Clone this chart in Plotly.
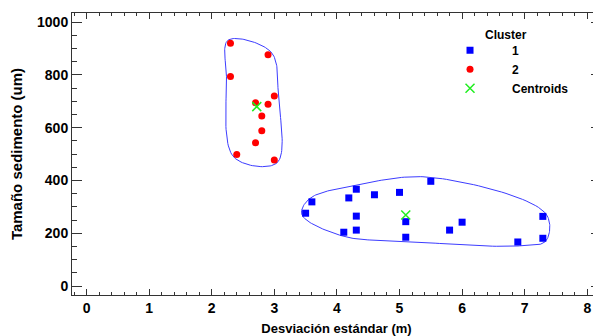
import numpy as np
import plotly.graph_objects as go

# ---- data ----
c1_x = [3.60, 3.50, 4.31, 4.19, 4.60, 5.00, 5.50, 4.31, 5.10, 4.31, 4.11, 5.10, 5.80, 6.00, 6.89, 7.29, 7.29]
c1_y = [319, 276, 367, 334, 346, 355, 397, 265, 244, 212, 204, 185, 212, 242, 167, 264, 181]
c2_x = [2.30, 2.90, 2.30, 3.00, 2.70, 2.90, 2.80, 2.80, 2.70, 2.40, 3.00]
c2_y = [920, 877, 794, 720, 695, 689, 645, 589, 543, 499, 478]
cen_x = [2.72, 5.10]
cen_y = [680, 269]
x_ticks = [0, 1, 2, 3, 4, 5, 6, 7, 8]
y_ticks = [0, 200, 400, 600, 800, 1000]

# page body has an 8px margin, so the figure is sized to fill the rest of the window
W, H = 593, 328
M = dict(l=64, r=0, t=5, b=41)
XR = [-0.232, 8.219]
YR = [-34, 1035]
sx = (W - M["l"] - M["r"]) / (XR[1] - XR[0])
sy = (H - M["t"] - M["b"]) / (YR[1] - YR[0])


def hull(pts):
    pts = sorted(set(pts))
    def cross(o, a, b):
        return (a[0]-o[0])*(b[1]-o[1]) - (a[1]-o[1])*(b[0]-o[0])
    lower, upper = [], []
    for p in pts:
        while len(lower) >= 2 and cross(lower[-2], lower[-1], p) <= 0:
            lower.pop()
        lower.append(p)
    for p in reversed(pts):
        while len(upper) >= 2 and cross(upper[-2], upper[-1], p) <= 0:
            upper.pop()
        upper.append(p)
    return lower[:-1] + upper[:-1]


def outline(xs, ys, pad=4.0, n=30):
    P = [(x * sx, y * sy) for x, y in zip(xs, ys)]
    h = np.array(hull(P))
    N = len(h)
    off = []
    for i in range(N):
        a, v, b = h[i-1], h[i], h[(i+1) % N]
        d1 = v - a; d2 = b - v
        n1 = np.array([d1[1], -d1[0]]) / np.linalg.norm(d1)
        n2 = np.array([d2[1], -d2[0]]) / np.linalg.norm(d2)
        bis = n1 + n2
        bis /= np.linalg.norm(bis)
        off.append(v + pad * bis)
    Q = np.array(off)
    out = []
    for i in range(N):
        p0, p1, p2, p3 = Q[i-1], Q[i], Q[(i+1) % N], Q[(i+2) % N]
        t0 = 0.0
        t1 = t0 + np.linalg.norm(p1-p0) ** 0.5
        t2 = t1 + np.linalg.norm(p2-p1) ** 0.5
        t3 = t2 + np.linalg.norm(p3-p2) ** 0.5
        for t in np.linspace(t1, t2, n, endpoint=False):
            A1 = (t1-t)/(t1-t0)*p0 + (t-t0)/(t1-t0)*p1
            A2 = (t2-t)/(t2-t1)*p1 + (t-t1)/(t2-t1)*p2
            A3 = (t3-t)/(t3-t2)*p2 + (t-t2)/(t3-t2)*p3
            B1 = (t2-t)/(t2-t0)*A1 + (t-t0)/(t2-t0)*A2
            B2 = (t3-t)/(t3-t1)*A2 + (t-t1)/(t3-t1)*A3
            C = (t2-t)/(t2-t1)*B1 + (t-t1)/(t2-t1)*B2
            out.append(C)
    out.append(out[0])
    out = np.array(out)
    return out[:, 0] / sx, out[:, 1] / sy


fig = go.Figure()
for xs, ys in [(c2_x, c2_y), (c1_x, c1_y)]:
    ox, oy = outline(xs, ys)
    fig.add_trace(go.Scatter(x=ox, y=oy, mode="lines", showlegend=False,
                             line=dict(color="#3c3cff", width=1), hoverinfo="skip"))

fig.add_trace(go.Scatter(x=c1_x, y=c1_y, mode="markers", name="1",
                         marker=dict(symbol="square", size=7, color="#0000ff")))
fig.add_trace(go.Scatter(x=c2_x, y=c2_y, mode="markers", name="2",
                         marker=dict(symbol="circle", size=7, color="#ff0000")))
fig.add_trace(go.Scatter(x=cen_x, y=cen_y, mode="markers", name="Centroids",
                         marker=dict(symbol="x-thin", size=9, color="#22ee22",
                                     line=dict(color="#22ee22", width=1.5))))

FONT = "Liberation Sans, Arial, sans-serif"
axis_common = dict(showgrid=False, zeroline=False, showline=True, linecolor="#333",
                   linewidth=1, mirror="ticks", ticks="inside", tickcolor="#333",
                   automargin=False,
                   tickfont=dict(family=FONT, size=14, color="#000", weight="bold"))
fig.update_xaxes(range=XR, tickvals=x_ticks, ticklen=6,
                 minor=dict(dtick=0.2, ticks="inside", ticklen=3, tickcolor="#333"),
                 title=dict(text="Desviación estándar (m)",
                            font=dict(family=FONT, size=13, color="#000", weight="bold")),
                 **axis_common)
fig.update_yaxes(range=YR, tickvals=y_ticks, ticklen=10,
                 minor=dict(dtick=50, ticks="inside", ticklen=5, tickcolor="#333"),
                 title=dict(text="Tamaño sedimento (um)",
                            font=dict(family=FONT, size=15, color="#000", weight="bold")),
                 **axis_common)

fig.update_layout(
    width=W, height=H, margin=M,
    plot_bgcolor="white", paper_bgcolor="white",
    legend=dict(x=0.673, y=0.919, xanchor="left", yanchor="top", itemwidth=74,
                bgcolor="rgba(0,0,0,0)",
                font=dict(family=FONT, size=12, color="#000", weight="bold")),
    annotations=[dict(text="Cluster", xref="paper", yref="paper", x=0.820, y=0.922,
                      xanchor="center", yanchor="middle", showarrow=False,
                      font=dict(family=FONT, size=12, color="#000", weight="bold"))],
)
fig.write_html("out.html")
